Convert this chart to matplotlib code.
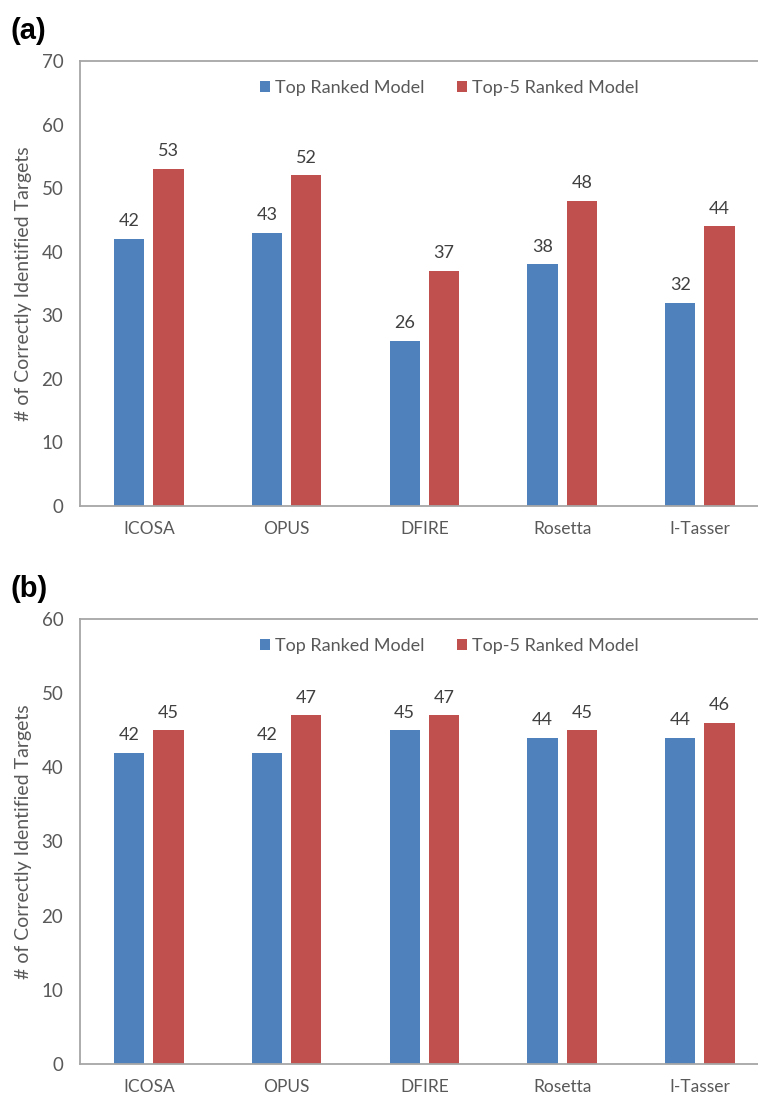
import matplotlib
matplotlib.use("Agg")
import numpy as np
from matplotlib import pyplot as plt

plt.rcParams['font.family'] = ['Lato', 'DejaVu Sans']

methods = ["ICOSA", "OPUS", "DFIRE", "Rosetta", "I-Tasser"]
top1_a = [42, 43, 26, 38, 32]
top5_a = [53, 52, 37, 48, 44]
top1_b = [42, 42, 45, 44, 44]
top5_b = [45, 47, 47, 45, 46]

BLUE = "#4F81BD"
RED = "#C0504D"
GRAY_TXT = "#595959"
SPINE = "#A6A6A6"

W, H = 758, 1096


def panel(rect, top1, top5, ymax, tag):
    ax = fig.add_axes(rect)
    x = np.arange(len(methods))
    w = 0.22
    b1 = ax.bar(x - 0.143, top1, w, color=BLUE, label="Top Ranked Model")
    b2 = ax.bar(x + 0.143, top5, w, color=RED, label="Top-5 Ranked Model")
    ax.bar_label(b1, padding=7, fontsize=13, color="#404040")
    ax.bar_label(b2, padding=7, fontsize=13, color="#404040")

    ax.set_xlim(-0.5, -0.5 + 678 / 137.75)
    ax.set_ylim(0, ymax)
    ax.set_yticks(range(0, ymax + 1, 10))
    ax.set_xticks(x)
    ax.set_xticklabels(methods)
    ax.tick_params(axis="y", length=0, pad=12, labelsize=13.5, labelcolor=GRAY_TXT)
    ax.tick_params(axis="x", length=0, pad=11, labelsize=12.5, labelcolor=GRAY_TXT)
    ax.set_ylabel("# of Correctly Identified Targets", fontsize=14,
                  color=GRAY_TXT, labelpad=7)

    for s in ("left", "top", "bottom"):
        ax.spines[s].set_color(SPINE)
        ax.spines[s].set_linewidth(1.3)
    ax.spines["right"].set_visible(False)

    ax.legend(loc="center", bbox_to_anchor=(0.545, 0.939), ncol=2,
              frameon=False, fontsize=13, labelcolor=GRAY_TXT,
              handlelength=0.55, handleheight=0.55, handletextpad=0.3,
              columnspacing=1.8)

    fig.text(10 / W, rect[1] + rect[3] + 30 / H, tag, fontsize=21,
             fontweight="bold", family="Liberation Sans", va="center")
    return ax


fig = plt.figure(figsize=(W / 100, H / 100), dpi=100)

panel([80 / W, 1 - 506 / H, 678 / W, 445 / H], top1_a, top5_a, 70, "(a)")
panel([80 / W, 1 - 1064 / H, 678 / W, 445 / H], top1_b, top5_b, 60, "(b)")

fig.savefig("out.png", dpi=100)
